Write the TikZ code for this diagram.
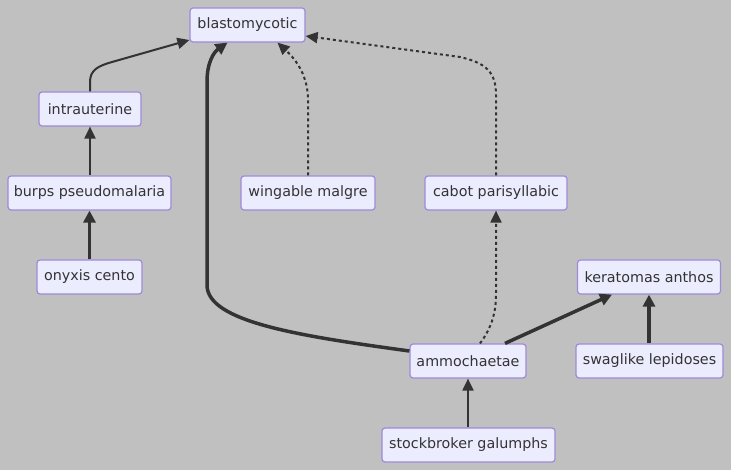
\documentclass[tikz,border=0pt]{standalone}
\usepackage{fontspec}
\setmainfont{DejaVu Sans}
\usetikzlibrary{arrows.meta,calc}
\definecolor{bg}{HTML}{C0C0C0}
\definecolor{nfill}{HTML}{ECECFF}
\definecolor{nborder}{HTML}{9F8AD6}
\definecolor{ink}{HTML}{333333}
\begin{document}
\begin{tikzpicture}[x=1pt,y=-1pt,
  box/.style={draw=nborder,fill=nfill,line width=1.2pt,rounded corners=3pt,
    minimum height=34pt,inner xsep=2pt,inner ysep=0pt,text=ink,
    font=\fontsize{14.3}{16}\selectfont},
  edge/.style={draw=ink,line width=2pt,-{Triangle[length=12pt,width=11pt]}},
  thick edge/.style={draw=ink,line width=3.5pt,-{Triangle[length=12pt,width=12pt]}},
  dot edge/.style={draw=ink,line width=2pt,dash pattern=on 3pt off 3pt,-{Triangle[length=12pt,width=11pt]}}]
\fill[bg] (0,0) rectangle (731,470);
\useasboundingbox (0,0) rectangle (731,470);
\node[box,minimum width=115pt] (blast) at (247.5,25) {blastomycotic};
\node[box,minimum width=102pt] (intra) at (90,109) {intrauterine};
\node[box,minimum width=163pt] (burps) at (89.5,193) {burps pseudomalaria};
\node[box,minimum width=105pt] (onyx) at (89.5,277) {onyxis cento};
\node[box,minimum width=134pt] (wing) at (308,193) {wingable malgre};
\node[box,minimum width=142pt] (cabot) at (496,193) {cabot parisyllabic};
\node[box,minimum width=143pt] (kera) at (649,277) {keratomas anthos};
\node[box,minimum width=116pt] (ammo) at (468,361) {ammochaetae};
\node[box,minimum width=147pt] (swag) at (649.5,361) {swaglike lepidoses};
\node[box,minimum width=173pt] (stock) at (468.5,445) {stockbroker galumphs};
% edges
\draw[edge] (intra.north) -- (90,82) .. controls (90,70) and (98,66) .. (112,62) -- ($(blast.west)+(0,15)$);
\draw[edge] (intra.south |- burps.north) -- (intra.south);
\draw[thick edge] (onyx.north) -- (onyx.north |- burps.south);
\draw[thick edge] ($(ammo.west)+(0,-10)$) .. controls (300,336) and (207,322) .. (207,285) -- (207,82) .. controls (207,62) and (214,52) .. ($(blast.south)+(-20,0)$);
\draw[dot edge] (wing.north) -- (308,100) .. controls (308,72) and (292,56) .. ($(blast.south)+(30,0)$);
\draw[dot edge] (cabot.north) -- (496,95) .. controls (496,72) and (486,63) .. (460,57) -- ($(blast.east)+(0,11)$);
\draw[dot edge] ($(ammo.north)+(12,0)$) .. controls (490,330) and (496,315) .. (496,295) -- (cabot.south);
\draw[thick edge] ($(ammo.north)+(37,0)$) -- ($(kera.south)+(-37,0)$);
\draw[thick edge] (kera.south |- swag.north) -- (kera.south);
\draw[edge] (ammo.south |- stock.north) -- (ammo.south);
\end{tikzpicture}
\end{document}
